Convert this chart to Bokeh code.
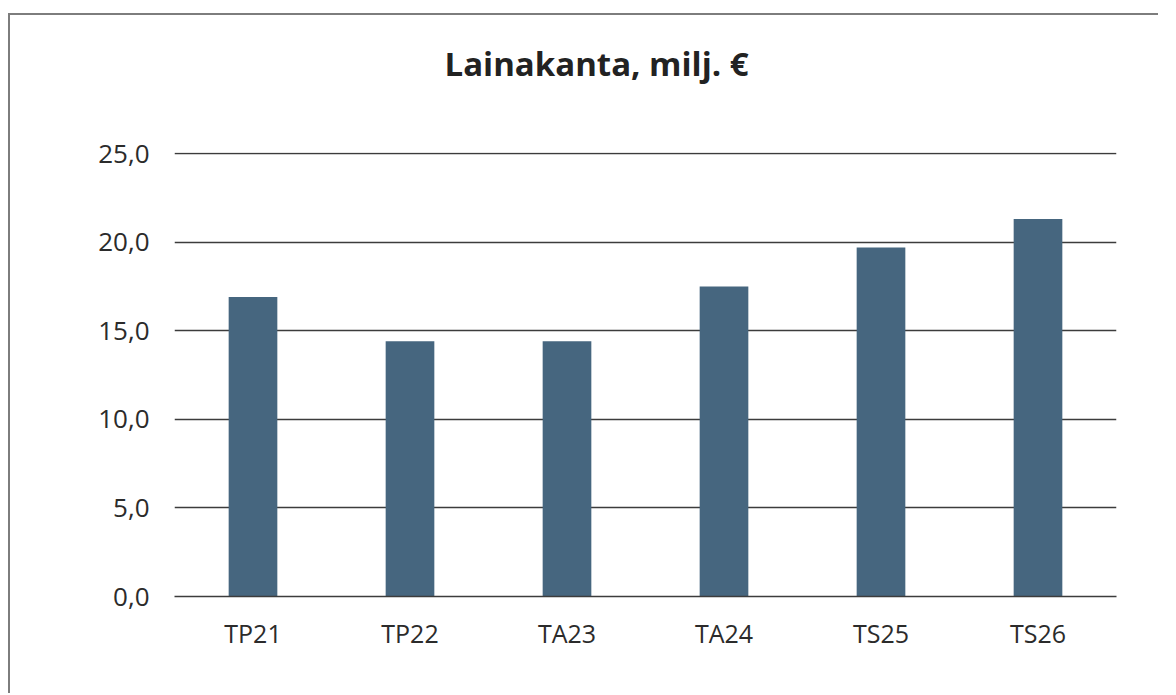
from bokeh.plotting import figure
from bokeh.models import FactorRange, Range1d, FixedTicker, CustomJSTickFormatter, Title
from bokeh.embed import file_html
from bokeh.resources import INLINE

categories = ["TP21", "TP22", "TA23", "TA24", "TS25", "TS26"]
values = [16.9, 14.4, 14.4, 17.5, 19.7, 21.3]
y_ticks = [0, 5, 10, 15, 20, 25]
title_text = "Lainakanta, milj. €"

FONT = "Open Sans"
TEXT = "#2b2b2b"
GRID = "#3c3c3c"

p = figure(
    x_range=FactorRange(*categories, range_padding=0),
    y_range=Range1d(0, 25.06),
    width=1150, height=680,
    output_backend="svg", toolbar_location=None,
    min_border_left=164, min_border_right=44,
    min_border_top=137, min_border_bottom=99,
)
p.styles = {"border-left": "2px solid #7d7d7d", "border-top": "2px solid #7d7d7d",
            "margin": "13px 0px 0px 8px"}

p.vbar(x=categories, top=values, width=0.31, fill_color="#46667f", line_color=None)

# spacer between title and frame
p.add_layout(Title(text=" ", text_font_size="10px", standoff=54), "above")

p.title.text = title_text
p.title.align = "left"
p.title.offset = 270
p.title.standoff = 0
p.title.text_font = FONT
p.title.text_font_size = "33px"
p.title.text_font_style = "bold"
p.title.text_color = "#222222"

p.outline_line_color = None
p.background_fill_color = None
p.border_fill_color = "white"

p.xgrid.grid_line_color = None
p.ygrid.grid_line_color = GRID
p.ygrid.grid_line_width = 1.5
p.ygrid.ticker = FixedTicker(ticks=y_ticks)

p.yaxis.ticker = FixedTicker(ticks=y_ticks)
p.yaxis.formatter = CustomJSTickFormatter(code="return tick.toFixed(1).replace('.', ',');")
p.yaxis.axis_line_color = None
p.yaxis.major_tick_line_color = None
p.yaxis.major_tick_out = 0
p.yaxis.minor_tick_line_color = None
p.yaxis.major_label_standoff = 25
p.yaxis.major_label_text_font = FONT
p.yaxis.major_label_text_font_size = "26px"
p.yaxis.major_label_text_color = TEXT

p.xaxis.axis_line_color = GRID
p.xaxis.axis_line_width = 1.5
p.xaxis.major_tick_line_color = None
p.xaxis.major_tick_out = 0
p.xaxis.minor_tick_line_color = None
p.xaxis.major_label_standoff = 19
p.xaxis.major_label_text_font = FONT
p.xaxis.major_label_text_font_size = "25px"
p.xaxis.major_label_text_color = TEXT

open("out.html", "w").write(file_html(p, INLINE))
